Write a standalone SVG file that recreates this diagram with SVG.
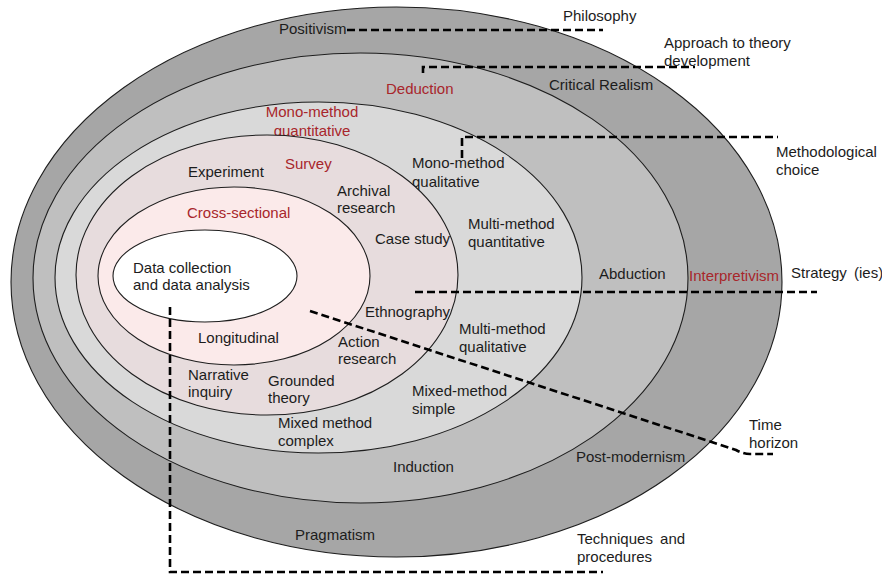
<svg xmlns="http://www.w3.org/2000/svg" width="882" height="574" viewBox="0 0 882 574">
  <style>
    .ring { stroke: #1e1e1e; stroke-width: 1.1; }
    text { font-family: "Liberation Sans", Arial, sans-serif; font-size: 15px; fill: #1c1c1c; }
    .red { fill: #a8262b; }
    .mid { text-anchor: middle; }
    .lead { fill: none; stroke: #000; stroke-width: 2.6; stroke-dasharray: 8 4; }
  </style>

  <rect width="882" height="574" fill="#ffffff"/>

  <!-- Layer 1: philosophies -->
  <g id="philosophy">
    <ellipse class="ring" cx="396.5" cy="282" rx="385.5" ry="275" fill="#a6a6a6"/>
    <text x="279" y="34">Positivism</text>
    <text x="689" y="281" class="red">Interpretivism</text>
    <text x="576" y="462">Post-modernism</text>
    <text x="295" y="540">Pragmatism</text>
  </g>

  <!-- Layer 2: approaches to theory development -->
  <g id="approach">
    <ellipse class="ring" cx="360.5" cy="278" rx="327.5" ry="225" fill="#bfbfbf"/>
    <text x="386" y="94" class="red">Deduction</text>
    <text x="549" y="90">Critical Realism</text>
    <text x="599" y="279">Abduction</text>
    <text x="393" y="472">Induction</text>
  </g>

  <!-- Layer 3: methodological choice -->
  <g id="methodological-choice">
    <ellipse class="ring" cx="318.5" cy="277.5" rx="263.5" ry="175.5" fill="#d9d9d9"/>
    <text x="312" y="117" class="red mid">Mono-method</text>
    <text x="312" y="136" class="red mid">quantitative</text>
    <text x="412" y="168">Mono-method</text>
    <text x="412" y="187">qualitative</text>
    <text x="468" y="229">Multi-method</text>
    <text x="468" y="247">quantitative</text>
    <text x="459" y="334">Multi-method</text>
    <text x="459" y="352">qualitative</text>
    <text x="412" y="396">Mixed-method</text>
    <text x="412" y="414">simple</text>
    <text x="278" y="428">Mixed method</text>
    <text x="278" y="446">complex</text>
  </g>

  <!-- Layer 4: strategies -->
  <g id="strategies">
    <ellipse class="ring" cx="267" cy="275" rx="191" ry="140" fill="#e7dcdd"/>
    <text x="188" y="177">Experiment</text>
    <text x="285" y="169" class="red">Survey</text>
    <text x="337" y="196">Archival</text>
    <text x="337" y="213">research</text>
    <text x="375" y="244">Case study</text>
    <text x="365" y="317">Ethnography</text>
    <text x="338" y="347">Action</text>
    <text x="338" y="364">research</text>
    <text x="268" y="386">Grounded</text>
    <text x="268" y="403">theory</text>
    <text x="188" y="380">Narrative</text>
    <text x="188" y="397">inquiry</text>
  </g>

  <!-- Layer 5: time horizons -->
  <g id="time-horizon">
    <ellipse class="ring" cx="234" cy="276" rx="136" ry="89" fill="#fbeaea"/>
    <text x="187" y="218" class="red">Cross-sectional</text>
    <text x="198" y="343">Longitudinal</text>
  </g>

  <!-- Core: techniques and procedures -->
  <g id="core">
    <ellipse class="ring" cx="205" cy="276" rx="92" ry="46" fill="#ffffff"/>
    <text x="133" y="273">Data collection</text>
    <text x="133" y="290">and data analysis</text>
  </g>

  <!-- Leader lines from each layer to its caption -->
  <g id="connectors">
    <polyline class="lead" points="347,30 603,30"/>
    <polyline class="lead" points="423,73 423,67 695,67"/>
    <polyline class="lead" points="462,158 462,137 778,137"/>
    <polyline class="lead" points="415,292 817,292"/>
    <path class="lead" d="M310,311 L736,450 Q743,454 750,454 L773,454"/>
    <polyline class="lead" points="170,307 170,572 603,572"/>
  </g>

  <!-- Layer captions -->
  <g id="captions">
    <text x="563" y="21">Philosophy</text>
    <text x="664" y="48">Approach to theory</text>
    <text x="664" y="66">development</text>
    <text x="776" y="157">Methodological</text>
    <text x="776" y="175">choice</text>
    <text x="791" y="278" word-spacing="3">Strategy (ies)</text>
    <text x="749" y="430">Time</text>
    <text x="749" y="448">horizon</text>
    <text x="577" y="544" word-spacing="3">Techniques and</text>
    <text x="577" y="562">procedures</text>
  </g>
</svg>
